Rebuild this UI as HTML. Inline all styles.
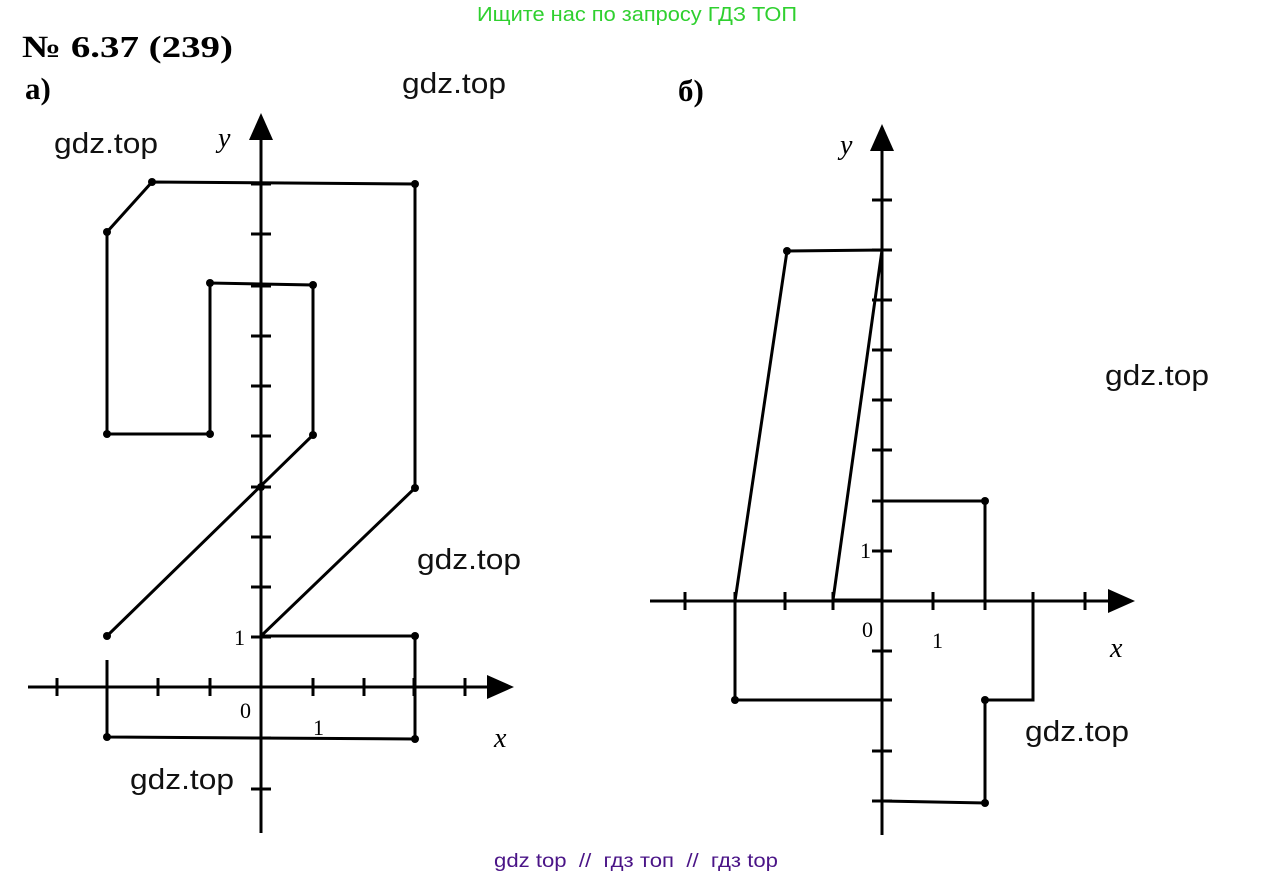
<!DOCTYPE html>
<html><head><meta charset="utf-8"><style>
html,body{margin:0;padding:0;background:#fff;width:1275px;height:878px;overflow:hidden}
</style></head><body>
<svg width="1275" height="878" xmlns="http://www.w3.org/2000/svg">
<text x="477" y="21" textLength="320" lengthAdjust="spacingAndGlyphs" font-family="Liberation Sans, sans-serif" font-size="20" fill="#2fd02f">Ищите нас по запросу ГДЗ ТОП</text>
<text x="22" y="57" textLength="211" lengthAdjust="spacingAndGlyphs" font-family="Liberation Serif, serif" font-weight="bold" font-size="31">№ 6.37 (239)</text>
<text x="25" y="99" font-family="Liberation Serif, serif" font-weight="bold" font-size="31">а)</text>
<text x="678" y="101" font-family="Liberation Serif, serif" font-weight="bold" font-size="31">б)</text>
<g font-family="Liberation Sans, sans-serif" font-size="29" fill="#111">
<text x="402" y="93" textLength="104" lengthAdjust="spacingAndGlyphs">gdz.top</text>
<text x="54" y="153" textLength="104" lengthAdjust="spacingAndGlyphs">gdz.top</text>
<text x="417" y="569" textLength="104" lengthAdjust="spacingAndGlyphs">gdz.top</text>
<text x="130" y="789" textLength="104" lengthAdjust="spacingAndGlyphs">gdz.top</text>
<text x="1105" y="385" textLength="104" lengthAdjust="spacingAndGlyphs">gdz.top</text>
<text x="1025" y="741" textLength="104" lengthAdjust="spacingAndGlyphs">gdz.top</text>
</g>
<text x="494" y="867" textLength="284" lengthAdjust="spacingAndGlyphs" xml:space="preserve" style="white-space:pre" font-family="Liberation Sans, sans-serif" font-size="19" fill="#4a1487">gdz top  //  гдз топ  //  гдз top</text>

<g stroke="#000" stroke-width="3" fill="none">
<line x1="28" y1="687" x2="495" y2="687"/>
<line x1="261" y1="833" x2="261" y2="130"/>
<path d="M57 678v18M107 678v18M158 678v18M210 678v18M313 678v18M364 678v18M414 678v18M465 678v18"/>
<path d="M251 789h20M251 738h20M251 637h20M251 587h20M251 537h20M251 487h20M251 436h20M251 386h20M251 336h20M251 286h20M251 234h20M251 184h20"/>
<polyline points="107,636 313,435 313,285 210,283 210,434 107,434 107,232 152,182 415,184 415,488 261,636 415,636 415,739 107,737 107,660"/>
<line x1="650" y1="601" x2="1115" y2="601"/>
<line x1="882" y1="835" x2="882" y2="140"/>
<path d="M685 592v18M735 592v18M785 592v18M833 592v18M933 592v18M985 592v18M1033 592v18M1085 592v18"/>
<path d="M872 200h20M872 250h20M872 300h20M872 350h20M872 400h20M872 450h20M872 501h20M872 551h20M872 651h20M872 700h20M872 751h20M872 801h20"/>
<polyline points="735,601 787,251 882,250 833,600 882,600"/>
<polyline points="882,501 985,501 985,601"/>
<polyline points="1033,601 1033,700 985,700 985,803 882,801"/>
<polyline points="735,601 735,700 882,700"/>
</g>
<g fill="#000">
<polygon points="261,113 249,140 273,140"/>
<polygon points="514,687 487,675 487,699"/>
<polygon points="882,124 870,151 894,151"/>
<polygon points="1135,601 1108,589 1108,613"/>
<circle cx="107" cy="636" r="4"/><circle cx="313" cy="435" r="4"/><circle cx="313" cy="285" r="4"/><circle cx="210" cy="283" r="4"/><circle cx="210" cy="434" r="4"/><circle cx="107" cy="434" r="4"/><circle cx="107" cy="232" r="4"/><circle cx="152" cy="182" r="4"/><circle cx="415" cy="184" r="4"/><circle cx="415" cy="488" r="4"/><circle cx="415" cy="636" r="4"/><circle cx="415" cy="739" r="4"/><circle cx="107" cy="737" r="4"/><circle cx="261" cy="487" r="4"/>
<circle cx="787" cy="251" r="4"/><circle cx="985" cy="501" r="4"/><circle cx="735" cy="700" r="4"/><circle cx="985" cy="700" r="4"/><circle cx="985" cy="803" r="4"/>
</g>
<g font-family="Liberation Serif, serif" font-size="28" font-style="italic">
<text x="218" y="147">y</text>
<text x="494" y="747">x</text>
<text x="840" y="154">y</text>
<text x="1110" y="657">x</text>
</g>
<g font-family="Liberation Serif, serif" font-size="22">
<text x="240" y="718">0</text>
<text x="234" y="645">1</text>
<text x="313" y="735">1</text>
<text x="862" y="637">0</text>
<text x="932" y="648">1</text>
<text x="860" y="558">1</text>
</g>
</svg>
</body></html>
